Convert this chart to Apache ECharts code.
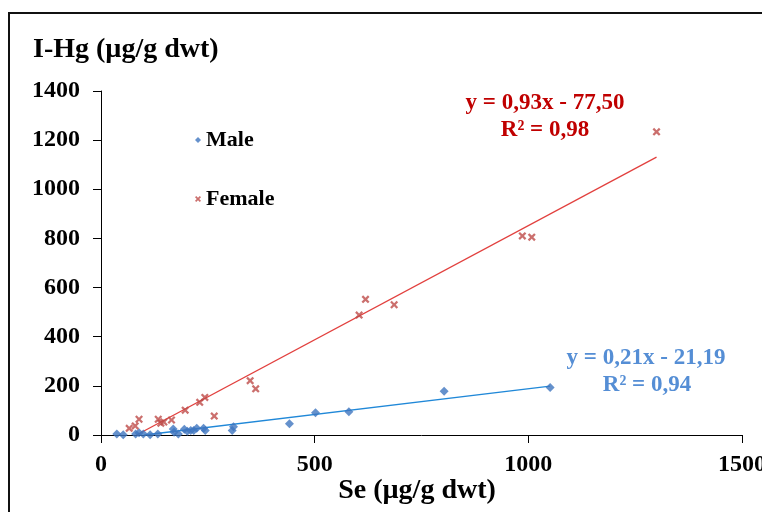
<!DOCTYPE html>
<html style="height: 100%">
<head>
    <meta charset="utf-8">
    <title>I-Hg vs Se</title>
    <script src="https://cdn.jsdelivr.net/npm/echarts@6/dist/echarts.min.js"></script>
</head>
<body style="height: 100%; margin: 0; background: #fff">
    <div id="main" style="width: 762px; height: 512px"></div>
    <script type="text/javascript">
        // Male points: Se (x) and I-Hg (y)
        var maleSe  = [37, 52, 81, 89, 99, 115, 133, 169, 171, 181, 195, 202, 210, 217, 224, 240, 244, 307, 310, 441, 502, 580, 803, 1051];
        var maleHg  = [4, 1, 4, 9, 4, 1, 4, 24, 11, 4, 23, 15, 18, 18, 27, 27, 18, 18, 34, 46, 91, 95, 178, 193];

        // Female points
        var femaleSe = [66, 80, 89, 134, 140, 147, 165, 197, 231, 243, 265, 349, 362, 604, 619, 686, 986, 1008, 1300];
        var femaleHg = [27, 37, 64, 64, 48, 53, 61, 101, 133, 153, 77, 221, 188, 488, 552, 530, 810, 805, 1234];

        // trendline ends as drawn (from the printed equations)
        var maleTrend   = [[101, 0], [1051, 199]];
        var femaleTrend = [[83, 0], [1300, 1131]];

        var xTicks = [0, 500, 1000, 1500];
        var yTicks = [0, 200, 400, 600, 800, 1000, 1200, 1400];

        var serif = '"Liberation Serif", "DejaVu Serif", serif';
        var xMark = 'path://M2,0L5,3L8,0L10,2L7,5L10,8L8,10L5,7L2,10L0,8L3,5L0,2Z';

        function pairs(xs, ys) {
            return xs.map(function (x, i) { return [x, ys[i]]; });
        }

        var myChart = echarts.init(document.getElementById('main'));

        var axisCommon = {
            axisLine: { lineStyle: { color: '#000', width: 1 } },
            axisTick: { show: true, inside: false, length: 8, lineStyle: { color: '#000' } },
            splitLine: { show: false },
            axisLabel: {
                color: '#000', fontFamily: serif, fontWeight: 'bold', fontSize: 24,
                formatter: function (v) { return String(v); }
            }
        };

        var option = {
            animation: false,
            grid: { left: 101, right: 20, top: 91, bottom: 77, containLabel: false, outerBoundsMode: 'none' },
            xAxis: Object.assign({}, axisCommon, {
                type: 'value',
                min: xTicks[0], max: xTicks[xTicks.length - 1], interval: 500,
                axisLabel: Object.assign({}, axisCommon.axisLabel, { margin: 18 })
            }),
            yAxis: Object.assign({}, axisCommon, {
                type: 'value',
                min: yTicks[0], max: yTicks[yTicks.length - 1], interval: 200,
                axisLabel: Object.assign({}, axisCommon.axisLabel, { margin: 21 })
            }),
            legend: {
                orient: 'vertical',
                left: 190, top: 124,
                itemGap: 37,
                itemWidth: 6, itemHeight: 6,
                textStyle: { color: '#000', fontFamily: serif, fontWeight: 'bold', fontSize: 22 },
                data: [
                    { name: 'Male', icon: 'diamond' },
                    { name: 'Female', icon: xMark }
                ]
            },
            graphic: [
                { type: 'rect', shape: { x: 9, y: 13, width: 900, height: 700 },
                  style: { fill: 'none', stroke: '#111', lineWidth: 2 }, silent: true },
                { type: 'text', left: 33, top: 36,
                  style: { text: 'I-Hg (µg/g dwt)', fill: '#000', font: 'bold 28px ' + serif } },
                { type: 'text', x: 417, y: 491,
                  style: { text: 'Se (µg/g dwt)', fill: '#000', font: 'bold 28px ' + serif, textAlign: 'center', textVerticalAlign: 'middle' } },
                { type: 'text', x: 545, y: 103,
                  style: { text: 'y = 0,93x - 77,50', fill: '#c00000', font: 'bold 23px ' + serif, textAlign: 'center', textVerticalAlign: 'middle' } },
                { type: 'text', x: 545, y: 130,
                  style: { text: 'R² = 0,98', fill: '#c00000', font: 'bold 23px ' + serif, textAlign: 'center', textVerticalAlign: 'middle' } },
                { type: 'text', x: 646, y: 358,
                  style: { text: 'y = 0,21x - 21,19', fill: '#558ed5', font: 'bold 23px ' + serif, textAlign: 'center', textVerticalAlign: 'middle' } },
                { type: 'text', x: 647, y: 385,
                  style: { text: 'R² = 0,94', fill: '#558ed5', font: 'bold 23px ' + serif, textAlign: 'center', textVerticalAlign: 'middle' } }
            ],
            series: [
                {
                    name: 'Male trend', type: 'line', data: maleTrend,
                    showSymbol: false, silent: true, z: 1,
                    lineStyle: { color: '#2088d8', width: 1.3 }
                },
                {
                    name: 'Female trend', type: 'line', data: femaleTrend,
                    showSymbol: false, silent: true, z: 1,
                    lineStyle: { color: '#e2403e', width: 1.3 }
                },
                {
                    name: 'Male', type: 'scatter', data: pairs(maleSe, maleHg),
                    symbol: 'diamond', symbolSize: 9, z: 3,
                    itemStyle: { color: '#3f76bf' }
                },
                {
                    name: 'Female', type: 'scatter', data: pairs(femaleSe, femaleHg),
                    symbol: xMark, symbolSize: 8, z: 4,
                    itemStyle: { color: '#be4b48' }
                }
            ]
        };

        myChart.setOption(option);
    </script>
</body>
</html>
